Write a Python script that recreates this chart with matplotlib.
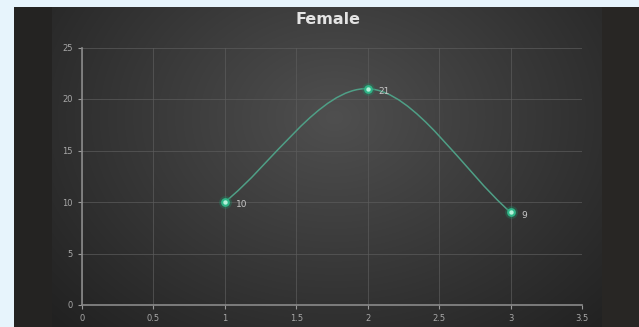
import numpy as np
import matplotlib
matplotlib.use("Agg")
import matplotlib.pyplot as plt
from matplotlib.path import Path
from matplotlib.patches import PathPatch

title = "Female"
x_vals = [1, 2, 3]
y_vals = [10, 21, 9]
point_labels = ["10", "21", "9"]
x_ticks = [0, 0.5, 1, 1.5, 2, 2.5, 3, 3.5]
x_tick_labels = ["0", "0.5", "1", "1.5", "2", "2.5", "3", "3.5"]
y_ticks = [0, 5, 10, 15, 20, 25]

W, H = 639, 327
fig = plt.figure(figsize=(W / 100, H / 100), dpi=100)
fig.patch.set_facecolor("#e7f4fc")

# dark panel background with radial gradient
bx0, by0 = 14, 7
bw, bh = W - bx0, H - by0
bg = fig.add_axes([bx0 / W, 0, bw / W, bh / H])
bg.set_axis_off()
yy, xx = np.mgrid[0:bh, 0:bw]
cx, cy = 320, 110
r = np.sqrt(((xx - cx) / 320) ** 2 + ((yy - cy) / 250) ** 2)
val = 0.31 - 0.15 * np.clip(r, 0, 1.2)
img = np.stack([val, val, val], axis=-1)
img[:, :38] = [0.145, 0.14, 0.135]
img[:, 588:] = [0.16, 0.15, 0.145]
bg.imshow(np.clip(img, 0, 1), aspect="auto", extent=[0, bw, bh, 0])
bg.set_xlim(0, bw)
bg.set_ylim(bh, 0)

ax = fig.add_axes([82 / W, 22 / H, 500 / W, 257.5 / H])
ax.set_facecolor("none")
ax.set_xlim(0, 3.5)
ax.set_ylim(0, 25)
ax.set_xticks(x_ticks)
ax.set_xticklabels(x_tick_labels)
ax.set_yticks(y_ticks)
for s in ["top", "right"]:
    ax.spines[s].set_visible(False)
for s in ["left", "bottom"]:
    ax.spines[s].set_color("#8a8a8a")
    ax.spines[s].set_linewidth(1.2)
ax.grid(True, color="#5c5c5c", linewidth=0.7, alpha=0.7)
ax.set_axisbelow(True)
ax.tick_params(colors="#9a9a9a", labelsize=6, length=3, width=0.8)
for lbl in ax.get_xticklabels() + ax.get_yticklabels():
    lbl.set_color("#a8a8a8")

# smooth curve via cubic Bezier path through the points
pts = np.array(list(zip(x_vals, y_vals)), dtype=float)
n = len(pts)
tangents = []
for i in range(n):
    p_prev = pts[max(i - 1, 0)]
    p_next = pts[min(i + 1, n - 1)]
    tangents.append((p_next - p_prev) / (2 if 0 < i < n - 1 else 1))
verts = [tuple(pts[0])]
codes = [Path.MOVETO]
k = 0.33
for i in range(n - 1):
    c1 = pts[i] + tangents[i] * k
    c2 = pts[i + 1] - tangents[i + 1] * k
    verts += [tuple(c1), tuple(c2), tuple(pts[i + 1])]
    codes += [Path.CURVE4] * 3
ax.add_patch(PathPatch(Path(verts, codes), facecolor="none",
                       edgecolor="#4f9f86", linewidth=1.1, zorder=3))

ax.scatter(x_vals, y_vals, s=85, color="#1f8a64", alpha=0.35, zorder=4, linewidths=0)
ax.scatter(x_vals, y_vals, s=40, color="#2fb587", zorder=5, linewidths=0)
ax.scatter(x_vals, y_vals, s=10, color="#b5f2da", zorder=6, linewidths=0)

for xv, yv, lb in zip(x_vals, y_vals, point_labels):
    ax.annotate(lb, (xv, yv), xytext=(8, -2), textcoords="offset points",
                color="#c8c8c8", fontsize=6.5, va="center", ha="left", zorder=7)

fig.text(328 / W, 1 - 19 / H, title, color="#e4e4e4", fontsize=11.5,
         fontweight="bold", ha="center", va="center")

fig.savefig("out.png", dpi=100, facecolor=fig.get_facecolor())
